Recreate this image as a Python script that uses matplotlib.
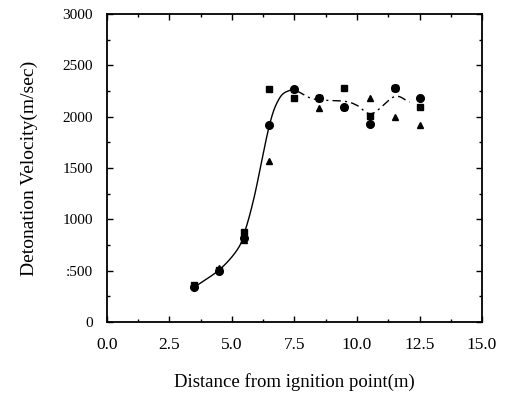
import numpy as np
import matplotlib
matplotlib.use("Agg")
import matplotlib.pyplot as plt
from matplotlib.ticker import MultipleLocator

# Measured points
xs = [3.5, 4.5, 5.5, 6.5, 7.5, 8.5, 9.5, 10.5, 11.5, 12.5]
circle_y = [340, 500, 820, 1920, 2270, 2180, 2090, 1930, 2280, 2180]
square_y = [360, 510, 880, 2270, 2180, 2180, 2280, 2010, 2280, 2090]
triangle_y = [350, 530, 800, 1570, 2270, 2080, 2090, 2180, 2000, 1920]

# Fitted curve knots
solid_x = [3.5, 4.5, 5.2, 5.5, 5.9, 6.5, 6.9, 7.3, 7.6]
solid_y = [340, 510, 700, 870, 1230, 1920, 2180, 2255, 2250]
dash_x = [7.6, 8.3, 9.5, 10.0, 10.6, 11.5, 12.1]
dash_y = [2250, 2170, 2150, 2110, 2030, 2195, 2140]

xticks = [0.0, 2.5, 5.0, 7.5, 10.0, 12.5, 15.0]
xticklabels = ["0.0", "2.5", "5.0", "7.5", "10.0", "12.5", "15.0"]
yticks = [0, 500, 1000, 1500, 2000, 2500, 3000]
yticklabels = ["0", ":500", "1000", "1500", "2000", "2500", "3000"]


def catmull(x, y, n=30):
    x = np.asarray(x, float); y = np.asarray(y, float)
    px = np.concatenate([[2*x[0]-x[1]], x, [2*x[-1]-x[-2]]])
    py = np.concatenate([[2*y[0]-y[1]], y, [2*y[-1]-y[-2]]])
    ox, oy = [], []
    t = np.linspace(0, 1, n)
    for i in range(1, len(px)-2):
        for P, out in ((px, ox), (py, oy)):
            p0, p1, p2, p3 = P[i-1], P[i], P[i+1], P[i+2]
            out.extend(0.5*((2*p1) + (-p0+p2)*t + (2*p0-5*p1+4*p2-p3)*t**2 + (-p0+3*p1-3*p2+p3)*t**3))
    return np.array(ox), np.array(oy)


plt.rcParams['font.family'] = ['Liberation Serif', 'DejaVu Serif']
fig = plt.figure(figsize=(5.10, 3.93), dpi=100)
ax = fig.add_axes([0.2098, 0.1807, 0.7353, 0.7837])

sx, sy = catmull(solid_x, solid_y)
ax.plot(sx, sy, color='black', lw=1.0)
dx, dy = catmull(dash_x, dash_y)
ax.plot(dx, dy, color='black', lw=1.0, linestyle=(0, (6, 3, 1.5, 3)))

ax.plot(xs, circle_y, 'o', color='black', ms=5.5, ls='none')
ax.plot(xs, square_y, 's', color='black', ms=4.5, ls='none')
ax.plot(xs, triangle_y, '^', color='black', ms=5, ls='none')

ax.set_xlim(0, 15)
ax.set_ylim(0, 3000)
ax.set_xticks(xticks)
ax.set_xticklabels(xticklabels, fontsize=12.5)
ax.set_yticks(yticks)
ax.set_yticklabels(yticklabels, fontsize=11)
ax.xaxis.set_minor_locator(MultipleLocator(1.25))
ax.yaxis.set_minor_locator(MultipleLocator(250))
ax.tick_params(which='both', direction='in', top=True, right=True, width=1)
ax.tick_params(which='major', length=4)
ax.tick_params(axis='x', which='major', pad=11)
ax.tick_params(axis='y', which='major', pad=10)
ax.tick_params(which='minor', length=2.5)
for s in ax.spines.values():
    s.set_linewidth(1.3)

ax.set_xlabel('Distance from ignition point(m)', fontsize=13.5, labelpad=14)
ax.set_ylabel('Detonation Velocity(m/sec)', fontsize=14, labelpad=18)

fig.savefig('out.png', dpi=100)
